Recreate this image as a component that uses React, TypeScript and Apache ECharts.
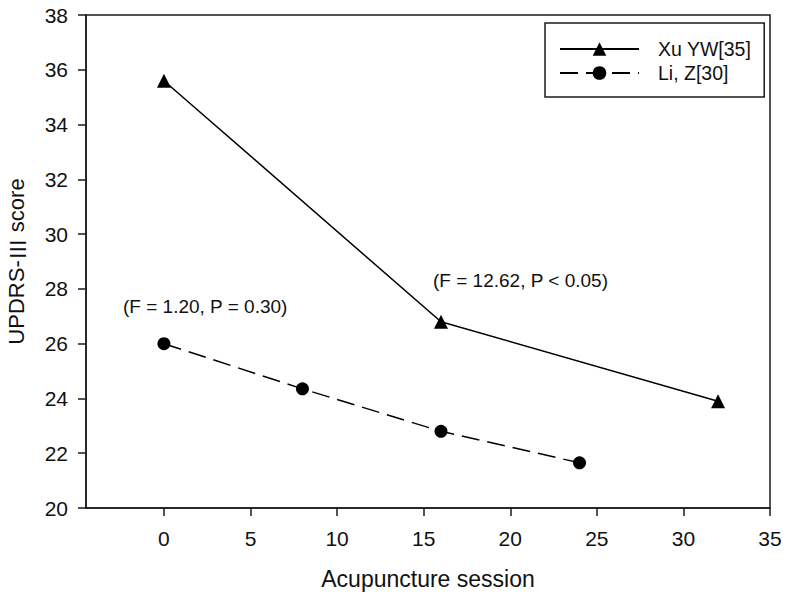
import React, { useEffect, useRef } from "react";
import * as echarts from "echarts";

const xuName = "Xu YW[35]";
const liName = "Li, Z[30]";
const xuSessions = [0, 16, 32];
const xuScores = [35.6, 26.8, 23.9];
const liSessions = [0, 8, 16, 24];
const liScores = [26.0, 24.35, 22.8, 21.65];
const xTicks = [0, 5, 10, 15, 20, 25, 30, 35];
const annotations = [
  { text: "(F = 1.20, P = 0.30)", x: 123, y: 308 },
  { text: "(F = 12.62, P < 0.05)", x: 433, y: 282 },
];

const FONT = "'Liberation Sans', Arial, 'Noto Sans CJK SC', sans-serif";

export default function App() {
  const ref = useRef<HTMLDivElement>(null);
  useEffect(() => {
    if (!ref.current) return;
    const chart = echarts.init(ref.current, undefined, { renderer: "svg" });
    const axisLine = { show: true, lineStyle: { color: "#1a1a1a", width: 1.5 } };
    chart.setOption({
      animation: false,
      backgroundColor: "#ffffff",
      grid: {
        left: 86,
        top: 15,
        right: 17,
        bottom: 90,
        show: true,
        borderColor: "#1a1a1a",
        borderWidth: 1.5,
        containLabel: false,
        outerBoundsMode: "none",
      },
      legend: {
        orient: "vertical",
        left: 545,
        top: 23,
        padding: [16, 13, 14, 14],
        borderColor: "#1a1a1a",
        borderWidth: 1.5,
        itemWidth: 79,
        itemHeight: 17,
        itemGap: 4,
        textStyle: {
          fontFamily: FONT,
          fontSize: 19.5,
          color: "#111",
          lineHeight: 20,
          padding: [0, 0, 0, 14],
        },
        data: [xuName, liName],
      },
      xAxis: {
        type: "value",
        min: -4.5,
        max: 35,
        name: "Acupuncture session",
        nameLocation: "middle",
        nameGap: 59,
        nameTextStyle: { fontFamily: FONT, fontSize: 23, color: "#111" },
        axisLine: { ...axisLine, onZero: false },
        axisTick: {
          show: true,
          length: 8,
          customValues: xTicks,
          lineStyle: { color: "#1a1a1a", width: 1.5 },
        },
        axisLabel: {
          customValues: xTicks,
          margin: 20,
          fontFamily: FONT,
          fontSize: 21,
          color: "#111",
        },
        splitLine: { show: false },
      },
      yAxis: {
        type: "value",
        min: 20,
        max: 38,
        interval: 2,
        name: "{a|UPDRS-}{r|Ⅲ}{a| score}",
        nameLocation: "middle",
        nameGap: 59,
        nameTextStyle: {
          fontFamily: FONT,
          fontSize: 22,
          color: "#111",
          rich: {
            a: { fontFamily: FONT, fontSize: 22, color: "#111" },
            r: { fontFamily: "'Noto Sans CJK SC'", fontSize: 22, color: "#111" },
          },
        },
        axisLine: { ...axisLine, onZero: false },
        axisTick: { show: true, length: 8, lineStyle: { color: "#1a1a1a", width: 1.5 } },
        axisLabel: { margin: 18, fontFamily: FONT, fontSize: 21, color: "#111" },
        splitLine: { show: false },
      },
      series: [
        {
          name: xuName,
          type: "line",
          data: xuSessions.map((s, i) => [s, xuScores[i]]),
          symbol: "triangle",
          symbolSize: 14,
          itemStyle: { color: "#000" },
          lineStyle: { color: "#000", width: 1.5 },
        },
        {
          name: liName,
          type: "line",
          data: liSessions.map((s, i) => [s, liScores[i]]),
          symbol: "circle",
          symbolSize: 13,
          itemStyle: { color: "#000" },
          lineStyle: { color: "#000", width: 1.5, type: [18, 8] },
        },
      ],
      graphic: annotations.map((a) => ({
        type: "text",
        left: a.x,
        top: a.y - 11,
        style: {
          text: a.text,
          fontFamily: FONT,
          fontSize: 19,
          fill: "#111",
        },
      })),
    });
    return () => chart.dispose();
  }, []);
  return (
    <div
      ref={ref}
      style={{ position: "fixed", left: 0, top: 0, width: 787, height: 598, background: "#fff" }}
    />
  );
}
